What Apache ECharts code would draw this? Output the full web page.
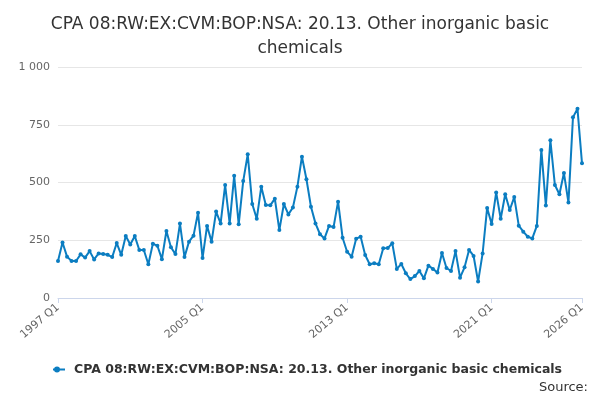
<!DOCTYPE html>
<html>
<head>
<meta charset="utf-8">
<script src="https://cdn.jsdelivr.net/npm/echarts@6/dist/echarts.min.js"></script>
<style>body{margin:0}#main{width:600px;height:400px}</style>
</head>
<body>
<div id="main"></div>
<script>
// quarterly values, 1997 Q1 .. 2026 Q1
var values = [
    160, 240, 179, 160, 160, 189, 175, 203, 167, 193,
    190, 187, 177, 238, 187, 268, 232, 268, 208, 208,
    146, 235, 226, 168, 290, 220, 190, 322, 177, 244,
    270, 369, 173, 312, 244, 374, 323, 489, 323,
    529, 319, 506, 622, 407, 343, 482, 403, 401, 430,
    294, 407, 362, 392, 482, 612, 514, 395, 323, 276,
    258, 312, 307, 417, 261, 200, 179, 257, 265, 186,
    146, 150, 146, 215, 216, 237, 126, 147, 107, 82,
    95, 117, 85, 140, 126, 110, 195, 130, 117, 203,
    88, 133, 208, 182, 71, 193, 390, 320, 457, 343,
    449, 381, 437, 313, 287, 265, 258, 312, 641, 400,
    683, 489, 449, 541, 413, 782, 819, 583
];
var quarters = [];
for (var i = 0; i < values.length; i++) {
    quarters.push((1997 + Math.floor(i / 4)) + ' Q' + (i % 4 + 1));
}
var seriesName = 'CPA 08:RW:EX:CVM:BOP:NSA: 20.13. Other inorganic basic chemicals';

var myChart = echarts.init(document.getElementById('main'));
var last = quarters.length - 1;
function showLabel(i) { return i % 32 === 0 || i === last; }

var option = {
    title: {
        text: 'CPA 08:RW:EX:CVM:BOP:NSA: 20.13. Other inorganic basic\nchemicals',
        left: 'center',
        top: 8,
        textStyle: { fontFamily: 'DejaVu Sans', fontSize: 17, fontWeight: 'normal', color: '#333', lineHeight: 24 }
    },
    grid: { left: 58, right: 18, top: 67, bottom: 102 },
    legend: {
        bottom: 19,
        left: 48,
        data: [seriesName],
        icon: 'path://M0,4 L12,4 L12,6 L0,6 Z M4,2 A3,3 0 1 1 4,8 A3,3 0 1 1 4,2',
        itemWidth: 20,
        itemHeight: 6,
        textStyle: { fontFamily: 'DejaVu Sans', fontSize: 12.5, fontWeight: 'bold', color: '#333' }
    },
    graphic: [{
        type: 'text', right: 12, bottom: 6,
        style: { text: 'Source:', font: '13px DejaVu Sans', fill: '#333' }
    }],
    xAxis: {
        type: 'category',
        data: quarters,
        boundaryGap: false,
        axisLine: { lineStyle: { color: '#ccd6eb' } },
        axisTick: { alignWithLabel: true, interval: function (i) { return showLabel(i); }, lineStyle: { color: '#ccd6eb' } },
        axisLabel: {
            interval: function (i) { return showLabel(i); },
            rotate: 40,
            color: '#666',
            fontFamily: 'DejaVu Sans',
            fontSize: 11
        }
    },
    yAxis: {
        type: 'value',
        min: 0, max: 1000, interval: 250,
        axisLabel: {
            color: '#666', fontFamily: 'DejaVu Sans', fontSize: 11,
            formatter: function (v) { return v >= 1000 ? '1 000' : v; }
        },
        splitLine: { lineStyle: { color: '#e6e6e6' } }
    },
    series: [{
        name: seriesName,
        type: 'line',
        data: values,
        symbol: 'circle',
        symbolSize: 4,
        showSymbol: true,
        showAllSymbol: true,
        itemStyle: { color: '#0b7dc1' },
        lineStyle: { color: '#0b7dc1', width: 2 }
    }]
};
option && myChart.setOption(option);
</script>
</body>
</html>
